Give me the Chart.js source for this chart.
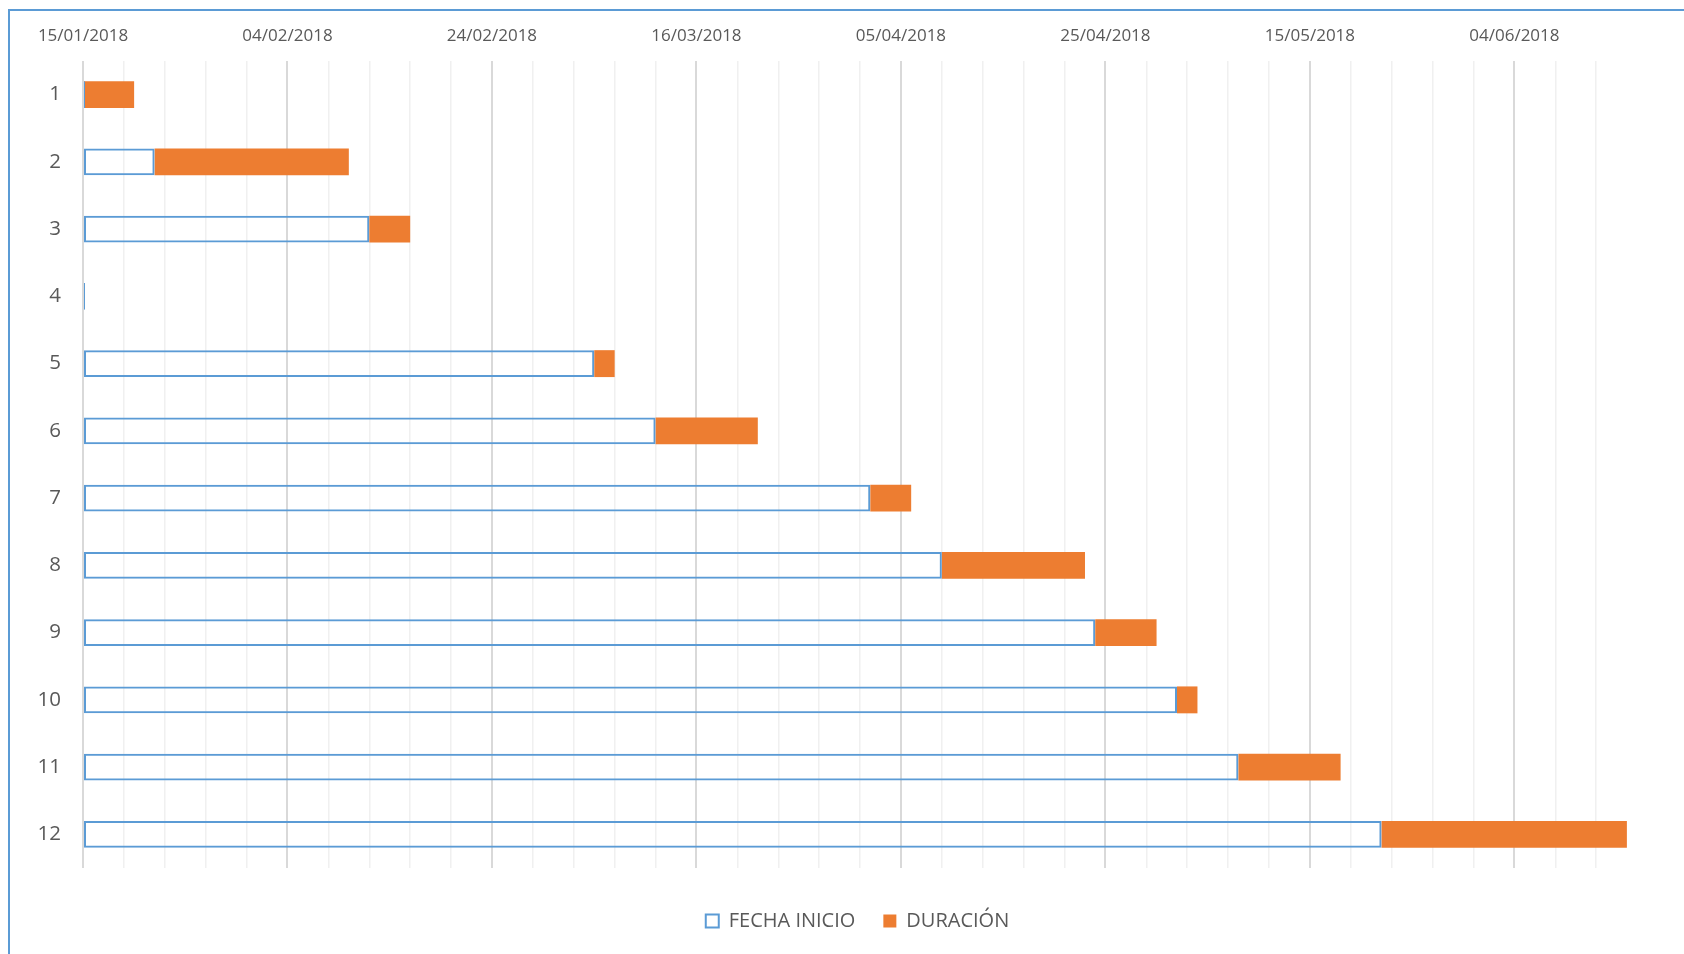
<!DOCTYPE html>
<html>
<head>
<meta charset="utf-8">
<script src="https://cdn.jsdelivr.net/npm/chart.js@4.4.1/dist/chart.umd.min.js"></script>
<style>
  html, body { margin: 0; padding: 0; background: #fff; overflow: hidden; }
  #wrap { position: relative; width: 1684px; height: 954px; }
  #marco { position: absolute; left: 8px; top: 9px; right: -10px; bottom: -10px;
           border-left: 2px solid #5b9bd5; border-top: 2px solid #5b9bd5; pointer-events: none; }
</style>
</head>
<body>
<div id="wrap">
  <canvas id="gantt"></canvas>
  <div id="marco"></div>
</div>
<script>
// datos del diagrama
const inicioEje = '15/01/2018'
const tareas = ['1', '2', '3', '4', '5', '6', '7', '8', '9', '10', '11', '12']
const fechaInicio = ['15/01/2018', '22/01/2018', '12/02/2018', '15/01/2018', '06/03/2018', '12/03/2018',
                     '02/04/2018', '09/04/2018', '24/04/2018', '02/05/2018', '08/05/2018', '22/05/2018']
const duracion = [5, 19, 4, 0, 2, 10, 4, 14, 6, 2, 10, 24]

const DIA = 86400000
const aUTC = (s) => { const p = s.split('/'); return Date.UTC(+p[2], +p[1] - 1, +p[0]) }
const base = aUTC(inicioEje)
const diasDesdeInicio = fechaInicio.map(f => (aUTC(f) - base) / DIA)
// tramo naranja: desde la fecha de inicio hasta inicio + duracion
const tramos = diasDesdeInicio.map((d, i) => [d, d + duracion[i]])

const dosDig = (n) => String(n).padStart(2, '0')
const formatoFecha = (dias) => {
    const d = new Date(base + dias * DIA)
    return dosDig(d.getUTCDate()) + '/' + dosDig(d.getUTCMonth() + 1) + '/' + d.getUTCFullYear()
}

const gris = '#595959'

const ctx = document.getElementById('gantt')

const gantt = new Chart(ctx, {
    type: 'bar',
    data: {
        labels: tareas,
        datasets: [{
            label: 'FECHA INICIO',
            data: diasDesdeInicio,
            backgroundColor: 'rgba(255,255,255,0)',
            borderColor: '#5b9bd5',
            borderWidth: 2,
            borderSkipped: false,
            minBarLength: 2
        }, {
            label: 'DURACIÓN',
            data: tramos,
            backgroundColor: '#ed7d31',
            borderWidth: 0
        }]
    },
    options: {
        indexAxis: 'y',
        responsive: true,
        maintainAspectRatio: false,
        animation: false,
        grouped: false,
        categoryPercentage: 1,
        barPercentage: 0.4,
        layout: { padding: { left: 0, top: 0, right: 52, bottom: 13 } },
        scales: {
            x: {
                position: 'top',
                min: 0,
                max: 151.5,
                border: { display: false },
                grid: {
                    drawTicks: false,
                    color: (c) => c.tick && c.tick.value % 20 === 0 ? '#d9d9d9' : '#f0f0f0',
                    lineWidth: (c) => c.tick && c.tick.value % 20 === 0 ? 2 : 1.5
                },
                ticks: {
                    stepSize: 4,
                    autoSkip: false,
                    includeBounds: false,
                    maxRotation: 0,
                    padding: 15,
                    color: gris,
                    font: { family: 'Open Sans', size: 17 },
                    callback: (v) => v % 20 === 0 ? formatoFecha(v) : ''
                },
                afterFit: (s) => { s.height = 61 }
            },
            y: {
                border: { display: false },
                grid: { display: false, drawTicks: false },
                ticks: {
                    padding: 22,
                    color: gris,
                    font: { family: 'Open Sans', size: 20.5 }
                },
                afterFit: (s) => { s.width = 83 }
            }
        },
        plugins: {
            tooltip: { enabled: false },
            legend: {
                position: 'bottom',
                fullSize: false,
                title: { display: true, text: '', padding: 0, font: { size: 10, lineHeight: 1.5 } },
                labels: {
                    boxWidth: 13,
                    boxHeight: 13,
                    padding: 28,
                    color: gris,
                    font: { family: 'Open Sans', size: 20 }
                }
            }
        }
    }
})
</script>
</body>
</html>
